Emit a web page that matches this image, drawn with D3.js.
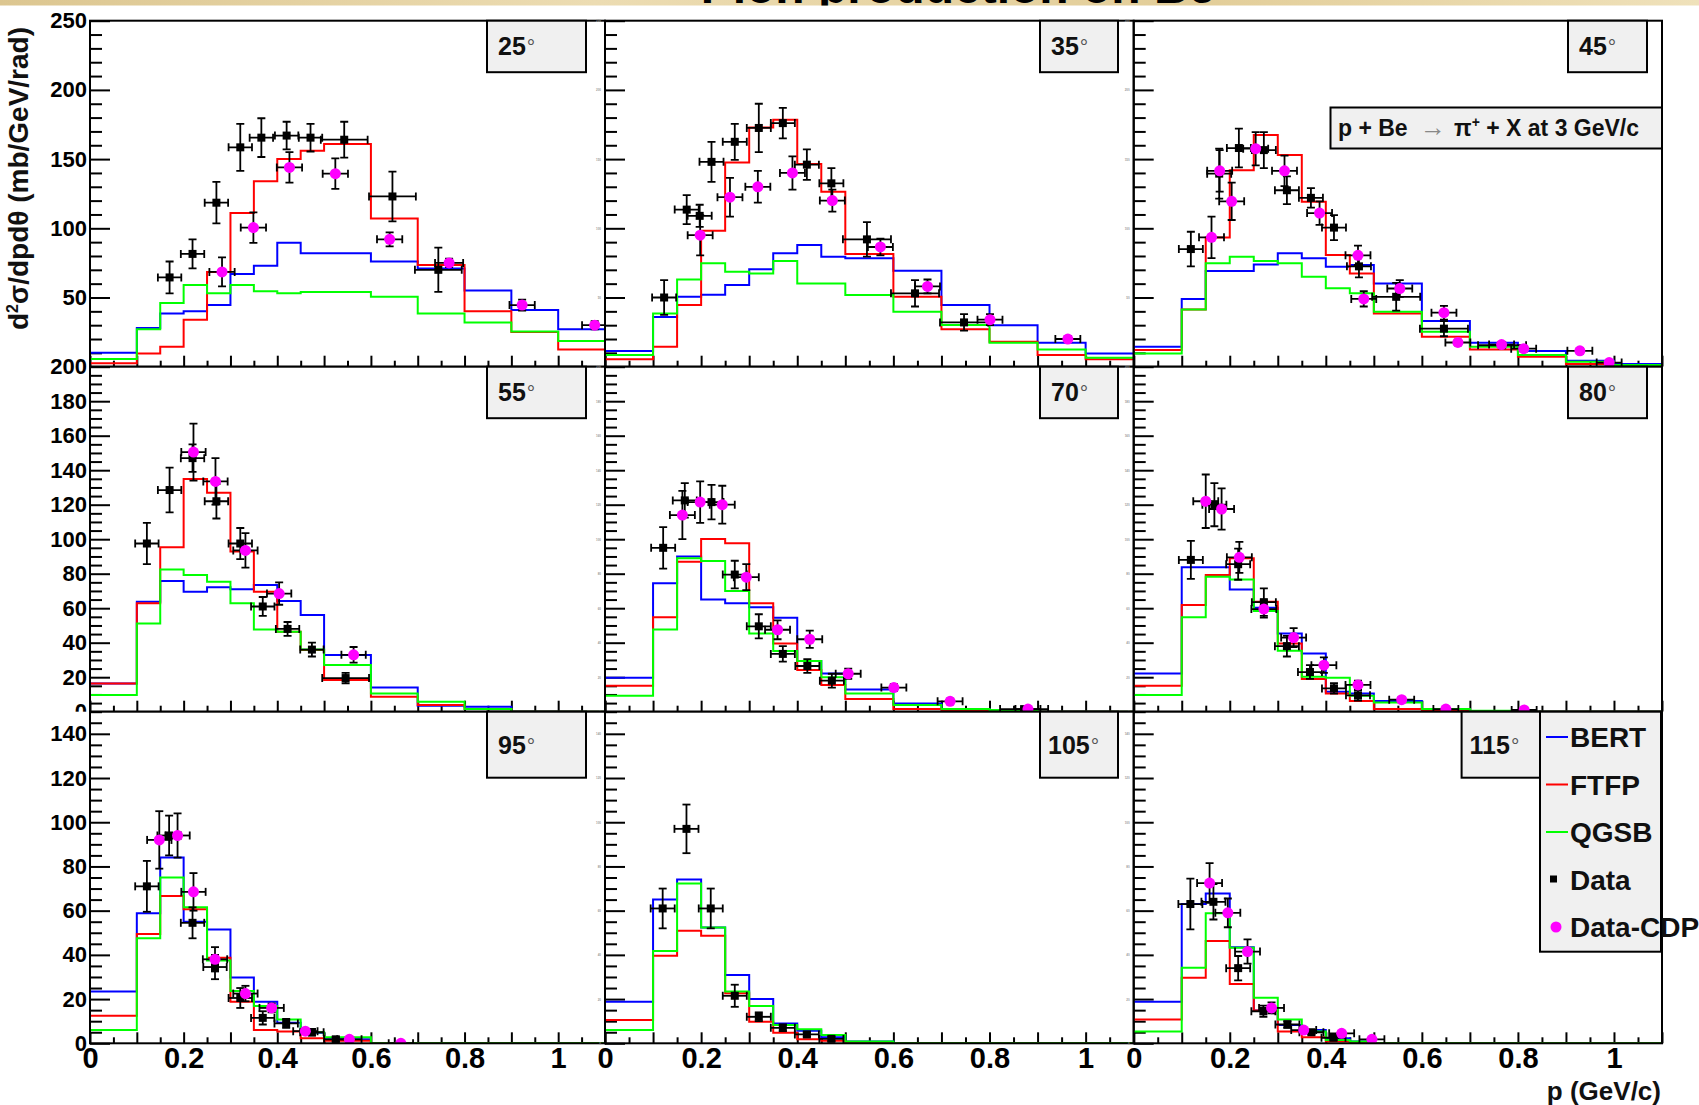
<!DOCTYPE html>
<html>
<head>
<meta charset="utf-8">
<script src="https://cdn.jsdelivr.net/npm/d3@7"></script>
<style>
  html, body { margin: 0; padding: 0; background: #fff; }
  svg { display: block; font-family: "Liberation Sans", Arial, Helvetica, sans-serif; font-weight: bold; }
</style>
</head>
<body>
<svg id="chart" width="1699" height="1105"></svg>
<script>
// ---------------- data ----------------
// histogram bin edges in p (GeV/c)
const binEdges = [0, 0.1, 0.15, 0.2, 0.25, 0.3, 0.35, 0.4, 0.45, 0.5, 0.6, 0.7, 0.8, 0.9, 1.0, 1.1];
const angles = ["25", "35", "45", "55", "70", "80", "95", "105", "115"];
const xTickValues = [0, 0.2, 0.4, 0.6, 0.8, 1];
const xTickLabels = ["0", "0.2", "0.4", "0.6", "0.8", "1"];
const yMaxByRow = [250, 200, 150];
const yLabelsRow1 = [50, 100, 150, 200, 250];
const yLabelsRow2 = [0, 20, 40, 60, 80, 100, 120, 140, 160, 180, 200];
const yLabelsRow3 = [0, 20, 40, 60, 80, 100, 120, 140];
const modelNames = ["BERT", "FTFP", "QGSB"];

// model predictions, one value per bin
const bert25 = [10, 28, 38.5, 40, 44.5, 67, 73, 89.5, 82, 82, 76, 71, 55, 41, 27];
const ftfp25 = [2.5, 9.5, 14.5, 34, 68.5, 111, 134, 150, 156, 161, 107, 73.5, 40, 25, 12.5];
const qgsb25 = [5.5, 27, 46, 59, 53, 59, 54.5, 53, 54, 54, 50.5, 38.5, 32, 25.5, 18.5];

const bert35 = [11.3, 36, 50.5, 52, 59, 70.5, 82, 88, 79.5, 78.3, 69.4, 44.6, 30, 17.3, 9.6];
const ftfp35 = [5.3, 14.5, 44.6, 98.3, 147.6, 172.9, 178.5, 146.4, 126.4, 81.4, 50.6, 27, 18, 8.4, 5.3];
const qgsb35 = [8.4, 38.5, 63, 74.7, 68.6, 67.4, 76.3, 60.2, 60.2, 51.8, 39.7, 30.1, 17.3, 12.5, 6.5];

const bert45 = [14.5, 48.9, 69.1, 69.1, 73.9, 81.9, 78.3, 72.3, 73.5, 60.2, 33, 17.3, 11.3, 4.3, 1.9];
const ftfp45 = [12, 41.4, 93.4, 142, 167.4, 152.9, 119.2, 80.7, 67.4, 38.5, 21.7, 12.5, 7.2, 1.9, 0.5];
const qgsb45 = [9.6, 41.4, 74.7, 79.5, 76.3, 74.7, 65, 56.6, 53, 39.7, 25.3, 14.5, 8.4, 3.6, 1.2];

const bert55 = [16.4, 63.8, 75.8, 69.6, 72.1, 71, 73.4, 64.2, 56, 32.9, 14.1, 3.5, 2.9, 0, 0];
const ftfp55 = [16.4, 62.8, 95.3, 134.9, 127, 92.8, 69.6, 46.4, 35.7, 18.4, 8.7, 3.9, 1.5, 0, 0];
const qgsb55 = [9.7, 51.2, 82.5, 79.2, 75.4, 62.8, 47.7, 46.4, 36.1, 27.1, 10.6, 5.8, 1.5, 0, 0];

const bert70 = [19.7, 74.4, 89.9, 65.1, 62.8, 60.5, 54.5, 29.4, 22.2, 12.9, 4.8, 1.5, 0.5, 0, 0];
const ftfp70 = [15.1, 54.7, 87, 100.1, 97.6, 62.8, 39.6, 24.2, 15.5, 7.3, 1.5, 0.5, 0.3, 0, 0];
const qgsb70 = [9.3, 47.7, 88.9, 87.3, 70, 45.4, 35.2, 29.4, 20, 10.6, 3.9, 1.5, 1, 0, 0];

const bert80 = [22.2, 83.7, 83.7, 70.9, 60.3, 45.4, 33.8, 11.6, 10.6, 6.2, 1.5, 0.3, 0, 0, 0];
const ftfp80 = [15.1, 61.8, 79.2, 88.9, 63.8, 39.6, 18.9, 10.6, 6.2, 1.5, 0.5, 0.3, 0, 0, 0];
const qgsb80 = [9.7, 54.7, 78.3, 76.7, 58.4, 35.4, 20.3, 19.7, 9.3, 5.4, 1.5, 0.5, 0, 0, 0];

const bert95 = [23.4, 58.8, 84.1, 55, 51.5, 29.8, 18.8, 9.3, 4.8, 1.8, 0, 0, 0, 0, 0];
const ftfp95 = [12.5, 49.4, 66.6, 60.6, 38.7, 18.8, 6, 5.3, 2.3, 1.2, 0, 0, 0, 0, 0];
const qgsb95 = [6, 47.5, 75, 61.5, 37.4, 23.7, 16.9, 10.8, 5, 2.7, 0, 0, 0, 0, 0];

const bert105 = [18.8, 65.1, 74.1, 52.4, 30.9, 20, 9, 5.7, 2.7, 0.8, 0, 0, 0, 0, 0];
const ftfp105 = [10.5, 39.6, 50.9, 48.7, 22.6, 9.8, 4.8, 1.8, 1.2, 0, 0, 0, 0, 0, 0];
const qgsb105 = [6, 41.7, 72.3, 52.4, 23.4, 16.9, 8.3, 6.3, 3.8, 0.8, 0, 0, 0, 0, 0];

const bert115 = [18.8, 63, 67.8, 43.4, 14.8, 8.3, 6, 2.3, 0.8, 0, 0, 0, 0, 0, 0];
const ftfp115 = [10.8, 29.7, 46.3, 26.8, 14.8, 5.3, 2.7, 0.8, 0, 0, 0, 0, 0, 0, 0];
const qgsb115 = [5.3, 34.2, 58.8, 43.2, 20.6, 10.8, 5.3, 1.5, 0.8, 0, 0, 0, 0, 0, 0];

// measurements: [p, value, p error, value error]
const data25 = [[0.170, 64.5, 0.025, 11.5], [0.219, 81.5, 0.025, 10.5], [0.270, 118.5, 0.025, 15], [0.321, 158.5, 0.025, 17],
  [0.366, 165.5, 0.025, 14], [0.420, 167, 0.025, 10], [0.471, 165.5, 0.025, 10], [0.543, 164, 0.05, 13],
  [0.646, 123, 0.05, 18], [0.744, 70, 0.05, 16]];
const cdp25 = [[0.282, 68.5, 0.027, 10.5], [0.349, 100.5, 0.027, 11], [0.426, 144, 0.027, 11], [0.524, 139.5, 0.027, 11],
  [0.640, 92, 0.027, 5], [0.767, 75, 0.03, 3], [0.923, 44.5, 0.027, 4], [1.078, 30, 0.027, 3]];

const data35 = [[0.123, 50, 0.025, 12.5], [0.170, 113.5, 0.025, 10.5], [0.197, 109, 0.025, 8], [0.2216, 148, 0.025, 14.5],
  [0.270, 162.5, 0.025, 13], [0.320, 172.5, 0.025, 17.5], [0.370, 176, 0.025, 11], [0.420, 146, 0.025, 11],
  [0.471, 132.5, 0.025, 11], [0.545, 92, 0.05, 12.5], [0.645, 53, 0.05, 9.5], [0.747, 32, 0.05, 6]];
const cdp35 = [[0.198, 95, 0.026, 14.5], [0.260, 122.5, 0.026, 14], [0.318, 130, 0.026, 11.5], [0.390, 140, 0.026, 12],
  [0.473, 120, 0.026, 8], [0.573, 86.5, 0.026, 6], [0.671, 58, 0.026, 5], [0.801, 34, 0.026, 4], [0.963, 20, 0.026, 2]];

const data45 = [[0.119, 85, 0.025, 12.5], [0.178, 139.5, 0.025, 18], [0.219, 158, 0.025, 14], [0.271, 156.5, 0.025, 13],
  [0.319, 127.5, 0.025, 10], [0.369, 122, 0.025, 7], [0.417, 100.5, 0.025, 9], [0.469, 72.5, 0.025, 8],
  [0.5465, 50.5, 0.05, 10], [0.646, 27.5, 0.05, 5.5], [0.767, 15.5, 0.05, 2]];
const cdp45 = [[0.162, 93.5, 0.026, 15], [0.179, 141.5, 0.026, 15], [0.204, 119.5, 0.026, 13.5], [0.254, 157.5, 0.026, 12],
  [0.314, 141.5, 0.026, 11], [0.387, 111, 0.026, 8.5], [0.467, 80.5, 0.026, 7], [0.479, 49, 0.026, 5.5],
  [0.554, 56.5, 0.026, 6], [0.646, 39, 0.026, 5], [0.675, 17.5, 0.026, 2], [0.766, 16, 0.026, 2],
  [0.812, 13, 0.026, 2], [0.929, 11.5, 0.026, 2], [0.990, 3, 0.026, 1]];

const data55 = [[0.1215, 97.5, 0.025, 12], [0.170, 128.5, 0.025, 13], [0.219, 147, 0.025, 8], [0.270, 122, 0.025, 10],
  [0.321, 97.5, 0.025, 9], [0.369, 61, 0.025, 5.5], [0.422, 48, 0.025, 4], [0.474, 36, 0.025, 4], [0.546, 19.5, 0.05, 3]];
const cdp55 = [[0.221, 150.5, 0.026, 16.5], [0.268, 133.5, 0.026, 13.5], [0.332, 93.5, 0.026, 10], [0.404, 68.5, 0.026, 6.5],
  [0.563, 33, 0.026, 4.5]];

const data70 = [[0.121, 95, 0.025, 12], [0.166, 122.5, 0.025, 10], [0.2216, 121.5, 0.025, 10], [0.270, 79.5, 0.025, 8],
  [0.320, 49.5, 0.025, 7], [0.370, 33.5, 0.025, 4.5], [0.421, 26.5, 0.025, 4], [0.472, 18, 0.025, 4], [0.872, 1.5, 0.05, 1]];
const cdp70 = [[0.161, 114, 0.026, 14], [0.198, 121.5, 0.026, 12], [0.244, 120, 0.026, 11], [0.294, 78, 0.026, 7.5],
  [0.359, 47.5, 0.026, 5.5], [0.426, 42, 0.026, 5], [0.506, 22, 0.026, 3], [0.601, 14, 0.026, 2],
  [0.718, 6, 0.026, 1.5], [0.880, 1.5, 0.026, 1]];

const data80 = [[0.119, 88, 0.025, 11], [0.168, 120, 0.025, 12.5], [0.2175, 85.5, 0.025, 9], [0.271, 63.5, 0.025, 8],
  [0.319, 38, 0.025, 6], [0.367, 23, 0.025, 4], [0.417, 13.5, 0.025, 3], [0.467, 9.5, 0.025, 3]];
const cdp80 = [[0.150, 122, 0.026, 15.5], [0.183, 117.5, 0.026, 12], [0.220, 89.5, 0.026, 9], [0.271, 59.5, 0.026, 5],
  [0.333, 43, 0.026, 5.5], [0.396, 27, 0.026, 4.5], [0.467, 15.5, 0.026, 2.5], [0.558, 7, 0.026, 1.5],
  [0.650, 1.5, 0.026, 1], [0.813, 1, 0.026, 1]];

const data95 = [[0.1215, 71, 0.025, 11.5], [0.169, 94, 0.025, 9], [0.219, 54.5, 0.025, 7], [0.267, 34.5, 0.025, 5.5],
  [0.321, 20.5, 0.025, 4.5], [0.369, 11.5, 0.025, 3], [0.419, 9, 0.025, 2], [0.474, 5, 0.025, 1.5], [0.525, 1.8, 0.025, 1]];
const cdp95 = [[0.148, 92, 0.026, 13], [0.187, 94, 0.026, 10], [0.221, 68.5, 0.026, 8.5], [0.267, 38, 0.026, 5.5],
  [0.332, 22.5, 0.026, 3.5], [0.388, 16, 0.026, 2], [0.460, 5.5, 0.026, 1], [0.554, 1.8, 0.026, 1], [0.664, 0, 0.026, 1]];

const data105 = [[0.120, 61, 0.025, 9], [0.1695, 97, 0.025, 11], [0.220, 61, 0.025, 9], [0.270, 21.5, 0.025, 5],
  [0.320, 12, 0.025, 2], [0.370, 7, 0.025, 1.5], [0.420, 4, 0.025, 1], [0.471, 2, 0.025, 1]];
const cdp105 = [];

const data115 = [[0.118, 63, 0.025, 11.5], [0.166, 64, 0.025, 8], [0.2175, 34, 0.025, 5.5], [0.270, 14.5, 0.025, 2.5],
  [0.320, 8.5, 0.025, 1.5], [0.370, 5, 0.025, 1], [0.416, 2.5, 0.025, 1]];
const cdp115 = [[0.158, 72.5, 0.026, 9], [0.196, 59, 0.026, 6.5], [0.237, 41.5, 0.026, 5.5], [0.287, 16, 0.026, 2.5],
  [0.354, 6, 0.026, 1], [0.433, 4.5, 0.026, 1], [0.496, 1.8, 0.026, 1]];

// ---------------- layout ----------------
const W = 1699, H = 1105;
const colPx = [[90, 605], [605, 1133.7], [1133.7, 1662]];
const rowPx = [[20.7, 366.7], [366.7, 711.7], [711.7, 1043.3]];
const yLabelsByRow = [yLabelsRow1, yLabelsRow2, yLabelsRow3];
const colors = { bert: "#0000ff", ftfp: "#ff0000", qgsb: "#00ff00", data: "#000000", cdp: "#ff00ff" };

const seriesByAngle = {
  "25": [bert25, ftfp25, qgsb25, data25, cdp25],
  "35": [bert35, ftfp35, qgsb35, data35, cdp35],
  "45": [bert45, ftfp45, qgsb45, data45, cdp45],
  "55": [bert55, ftfp55, qgsb55, data55, cdp55],
  "70": [bert70, ftfp70, qgsb70, data70, cdp70],
  "80": [bert80, ftfp80, qgsb80, data80, cdp80],
  "95": [bert95, ftfp95, qgsb95, data95, cdp95],
  "105": [bert105, ftfp105, qgsb105, data105, cdp105],
  "115": [bert115, ftfp115, qgsb115, data115, cdp115]
};

const panels = angles.map((a, i) => {
  const s = seriesByAngle[a];
  return { angle: a, row: Math.floor(i / 3), col: i % 3, bert: s[0], ftfp: s[1], qgsb: s[2], data: s[3], cdp: s[4] };
});

const svg = d3.select("#chart");
const defs = svg.append("defs");

function styleAxis(sel) {
  sel.select(".domain").remove();
  sel.selectAll(".tick line").attr("stroke", "#000").attr("stroke-width", 2);
}

function drawPanel(p) {
  const [x0, x1] = colPx[p.col];
  const [yTop, yBot] = rowPx[p.row];
  const yMax = yMaxByRow[p.row];
  const x = d3.scaleLinear().domain([0, 1.1]).range([x0, x1]);
  const y = d3.scaleLinear().domain([0, yMax]).range([yBot, yTop]);
  const g = svg.append("g").attr("class", "panel-" + p.angle);

  const clipId = "clip-" + p.angle;
  defs.append("clipPath").attr("id", clipId)
    .append("rect").attr("x", x0).attr("y", yTop).attr("width", x1 - x0).attr("height", yBot - yTop);

  // y axis: minor and major ticks pointing into the frame
  const majorStep = p.row === 0 ? 50 : 20;
  const minorStep = p.row === 0 ? 10 : 5;
  const nMinor = Math.round(yMax / minorStep);
  const yAll = d3.range(0, nMinor + 1).map(i => i * minorStep);
  const yMajor = yAll.filter(v => v % majorStep === 0);
  const yMinor = yAll.filter(v => v % majorStep !== 0);
  const labels = yLabelsByRow[p.row];

  g.append("g").attr("transform", `translate(${x0},0)`)
    .call(d3.axisLeft(y).tickValues(yMinor).tickSize(-12).tickFormat(""))
    .call(styleAxis);

  const yMajorAxis = g.append("g").attr("transform", `translate(${x0},0)`)
    .call(d3.axisLeft(y).tickValues(yMajor).tickSize(-20).tickPadding(p.col === 0 ? 3 : 4)
      .tickFormat(v => labels.includes(v) ? String(v) : ""))
    .call(styleAxis);
  yMajorAxis.attr("font-family", null);
  if (p.col === 0) {
    yMajorAxis.selectAll("text").attr("font-size", 22).attr("fill", "#000").attr("font-weight", "bold");
  } else {
    yMajorAxis.selectAll("text").attr("font-size", 3).attr("fill", "#999");
  }

  // x axis ticks every 0.05, longer at every 0.1
  const xAll = d3.range(0, 23).map(i => +(i * 0.05).toFixed(2));
  const xMid = xAll.filter((v, i) => i % 2 === 0);
  const xMin = xAll.filter((v, i) => i % 2 === 1);
  g.append("g").attr("transform", `translate(0,${yBot})`)
    .call(d3.axisBottom(x).tickValues(xMin).tickSize(-6).tickFormat(""))
    .call(styleAxis);
  const xMajorAxis = g.append("g").attr("transform", `translate(0,${yBot})`)
    .call(d3.axisBottom(x).tickValues(xMid).tickSize(-11).tickPadding(4)
      .tickFormat(v => {
        if (p.row !== 2) return "";
        const k = xTickValues.findIndex(t => Math.abs(t - v) < 1e-6);
        return k >= 0 ? xTickLabels[k] : "";
      }))
    .call(styleAxis);
  xMajorAxis.attr("font-family", null);
  xMajorAxis.selectAll("text").attr("font-size", 29).attr("fill", "#000").attr("font-weight", "bold");

  // model histograms
  const hg = g.append("g").attr("clip-path", `url(#${clipId})`);
  const line = d3.line().x(d => x(d[0])).y(d => y(d[1])).curve(d3.curveStepAfter);
  [["bert", p.bert], ["ftfp", p.ftfp], ["qgsb", p.qgsb]].forEach(([k, vals]) => {
    const pts = vals.map((v, i) => [binEdges[i], v]).concat([[binEdges[binEdges.length - 1], vals[vals.length - 1]]]);
    hg.append("path").attr("d", line(pts)).attr("fill", "none")
      .attr("stroke", colors[k]).attr("stroke-width", 2);
  });

  // measurements with error bars
  function drawPoints(arr, kind) {
    const cap = 4;
    const pg = hg.append("g").selectAll("g").data(arr).join("g");
    pg.append("line")
      .attr("x1", d => x(d[0])).attr("x2", d => x(d[0]))
      .attr("y1", d => y(d[1] - d[3])).attr("y2", d => y(d[1] + d[3]));
    pg.append("line")
      .attr("x1", d => x(d[0]) - cap).attr("x2", d => x(d[0]) + cap)
      .attr("y1", d => y(d[1] - d[3])).attr("y2", d => y(d[1] - d[3]));
    pg.append("line")
      .attr("x1", d => x(d[0]) - cap).attr("x2", d => x(d[0]) + cap)
      .attr("y1", d => y(d[1] + d[3])).attr("y2", d => y(d[1] + d[3]));
    pg.append("line")
      .attr("x1", d => x(d[0] - d[2])).attr("x2", d => x(d[0] + d[2]))
      .attr("y1", d => y(d[1])).attr("y2", d => y(d[1]));
    pg.append("line")
      .attr("x1", d => x(d[0] - d[2])).attr("x2", d => x(d[0] - d[2]))
      .attr("y1", d => y(d[1]) - cap).attr("y2", d => y(d[1]) + cap);
    pg.append("line")
      .attr("x1", d => x(d[0] + d[2])).attr("x2", d => x(d[0] + d[2]))
      .attr("y1", d => y(d[1]) - cap).attr("y2", d => y(d[1]) + cap);
    pg.selectAll("line").attr("stroke", "#000").attr("stroke-width", 1.8);
    if (kind === "data") {
      pg.append("rect")
        .attr("x", d => x(d[0]) - 4).attr("y", d => y(d[1]) - 4)
        .attr("width", 8).attr("height", 8).attr("fill", colors.data);
    } else {
      pg.append("circle")
        .attr("cx", d => x(d[0])).attr("cy", d => y(d[1]))
        .attr("r", 5.5).attr("fill", colors.cdp);
    }
  }
  drawPoints(p.data, "data");
  drawPoints(p.cdp, "cdp");

  // frame
  g.append("rect").attr("x", x0).attr("y", yTop).attr("width", x1 - x0).attr("height", yBot - yTop)
    .attr("fill", "none").attr("stroke", "#000").attr("stroke-width", 2);

  // angle label box
  const boxX = p.angle === "115" ? 1461.6 : [487, 1040, 1568][p.col];
  const boxW = p.angle === "115" ? 78.4 : [99, 78, 79][p.col];
  const boxH = p.row === 2 ? 66 : 51.5;
  const bg = g.append("g");
  bg.append("rect").attr("x", boxX).attr("y", yTop).attr("width", boxW).attr("height", boxH)
    .attr("fill", "#f0f0f0").attr("stroke", "#000").attr("stroke-width", 2);
  const t = bg.append("text").attr("x", boxX + (p.angle.length > 2 ? 8 : 11))
    .attr("y", yTop + boxH / 2 + 9).attr("font-size", 25).attr("fill", "#111");
  t.append("tspan").text(p.angle);
  t.append("tspan").attr("font-size", 21).attr("font-weight", "normal").attr("fill", "#555")
    .attr("dx", 1).attr("dy", -1).text("°");
}

// pads are drawn row by row; each row's white pad hides what spills from the row above
[0, 1, 2].forEach(r => {
  svg.append("rect").attr("x", 0).attr("y", rowPx[r][0]).attr("width", W)
    .attr("height", (r === 2 ? H : rowPx[r][1]) - rowPx[r][0]).attr("fill", "#fff");
  panels.filter(p => p.row === r).forEach(drawPanel);
});

// reaction label in the 45 degree panel
const rx = svg.append("g");
rx.append("rect").attr("x", 1330.5).attr("y", 107.5).attr("width", 331.5).attr("height", 41)
  .attr("fill", "#f0f0f0").attr("stroke", "#000").attr("stroke-width", 2);
const rt = rx.append("text").attr("x", 1338).attr("y", 136).attr("font-size", 23).attr("fill", "#111");
rt.append("tspan").text("p + Be ");
rt.append("tspan").attr("font-weight", "normal").attr("fill", "#888").attr("font-size", 26).attr("dx", 6).text("→");
rt.append("tspan").attr("dx", 8).text("π");
rt.append("tspan").attr("font-size", 14).attr("dy", -9).text("+");
rt.append("tspan").attr("dy", 9).text(" + X at 3 GeV/c");

// legend
const legend = svg.append("g");
legend.append("rect").attr("x", 1540).attr("y", 711.7).attr("width", 121).attr("height", 240)
  .attr("fill", "#f0f0f0").attr("stroke", "#000").attr("stroke-width", 2);
const legendRows = [
  { name: modelNames[0], kind: "line", color: colors.bert },
  { name: modelNames[1], kind: "line", color: colors.ftfp },
  { name: modelNames[2], kind: "line", color: colors.qgsb },
  { name: "Data", kind: "square", color: colors.data },
  { name: "Data-CDP", kind: "circle", color: colors.cdp }
];
const lg = legend.selectAll("g").data(legendRows).join("g")
  .attr("transform", (d, i) => `translate(0,${737 + i * 47.5})`);
lg.filter(d => d.kind === "line").append("line")
  .attr("x1", 1546).attr("x2", 1568).attr("y1", 0).attr("y2", 0)
  .attr("stroke", d => d.color).attr("stroke-width", 2);
lg.filter(d => d.kind === "square").append("rect")
  .attr("x", 1550).attr("y", -4).attr("width", 7).attr("height", 7).attr("fill", d => d.color);
lg.filter(d => d.kind === "circle").append("circle")
  .attr("cx", 1556).attr("cy", 0).attr("r", 5.5).attr("fill", d => d.color);
lg.append("text").attr("x", 1570).attr("y", 10).attr("font-size", 28).attr("fill", "#111").text(d => d.name);

// axis titles
svg.append("text").attr("x", 1661).attr("y", 1100).attr("text-anchor", "end")
  .attr("font-size", 26).attr("fill", "#111").text("p (GeV/c)");

const yt = svg.append("text").attr("transform", "translate(28,330) rotate(-90)")
  .attr("font-size", 28).attr("fill", "#111");
yt.append("tspan").text("d");
yt.append("tspan").attr("font-size", 16).attr("dy", -10).text("2");
yt.append("tspan").attr("dy", 10).text("σ/dpdθ (mb/GeV/rad)");

// slide banner strip along the top edge
const band = defs.append("linearGradient").attr("id", "bandFill");
band.append("stop").attr("offset", "0%").attr("stop-color", "#dcc690");
band.append("stop").attr("offset", "35%").attr("stop-color", "#ecdcb2");
band.append("stop").attr("offset", "70%").attr("stop-color", "#e2cd98");
band.append("stop").attr("offset", "100%").attr("stop-color", "#efe1ba");
svg.append("rect").attr("x", 0).attr("y", 0).attr("width", W).attr("height", 5.5).attr("fill", "url(#bandFill)");
defs.append("clipPath").attr("id", "bandClip").append("rect").attr("x", 0).attr("y", 0).attr("width", W).attr("height", 5.5);
svg.append("text").attr("clip-path", "url(#bandClip)").attr("x", 958).attr("y", 2.5)
  .attr("text-anchor", "middle").attr("font-size", 48).attr("fill", "#000").text("Pion production on Be");
</script>
</body>
</html>
